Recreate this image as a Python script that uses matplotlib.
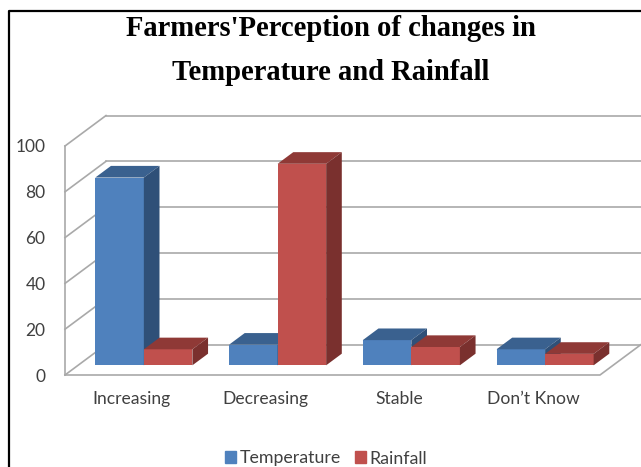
import matplotlib
matplotlib.use("Agg")
import matplotlib.pyplot as plt
from matplotlib.lines import Line2D
from matplotlib.patches import Patch

categories = ["Increasing", "Decreasing", "Stable", "Don\u2019t Know"]
temperature = [82, 9, 11, 7]
rainfall = [7, 88, 8, 5]
y_ticks = [0, 20, 40, 60, 80, 100]

title_lines = ["Farmers'Perception of changes in", "Temperature and Rainfall"]

W, H = 641, 467

# oblique depth of the box, in axis units
DEPTH_X = 0.3065
DEPTH_Y = 13.3
# the bars sit between these two fractions of the depth
BAR_D0 = 0.318
BAR_D1 = 0.70
BAR_W = 0.363

WALL = "#a9a9a9"
BLUE = ("#4f81bd", "#3a618f", "#2f5078")
RED = ("#c0504d", "#8f3936", "#7a302e")


def proj(x, y, d):
    return x + d * DEPTH_X, y + d * DEPTH_Y


def box(ax, x, value, colors):
    front, top, side = colors
    x0, base = proj(x, 0, BAR_D0)
    ax.bar(x0, value, BAR_W, bottom=base, align="edge", color=front, linewidth=0,
           clip_on=False, zorder=3)
    x1 = x0 + BAR_W
    # top face
    corners = [proj(x, value, BAR_D0), proj(x + BAR_W, value, BAR_D0),
               proj(x + BAR_W, value, BAR_D1), proj(x, value, BAR_D1)]
    ax.fill(*zip(*corners), color=top, lw=0, clip_on=False, zorder=3)
    # right face
    corners = [(x1, base), proj(x + BAR_W, 0, BAR_D1),
               proj(x + BAR_W, value, BAR_D1), proj(x + BAR_W, value, BAR_D0)]
    ax.fill(*zip(*corners), color=side, lw=0, clip_on=False, zorder=3)


fig = plt.figure(figsize=(W / 100, H / 100), dpi=100)
ax = fig.add_axes([65 / W, (H - 375) / H, 535 / W, 229 / H])
ax.set_xlim(0, len(categories))
ax.set_ylim(0, 100)
for s in ax.spines.values():
    s.set_visible(False)

# walls and floor
for t in y_ticks:
    x_b, y_b = proj(0, t, 1)
    ax.plot([0, x_b], [t, y_b], color=WALL, lw=1.2, clip_on=False, zorder=1)
    ax.plot([x_b, len(categories) + DEPTH_X], [y_b, y_b], color=WALL, lw=1.2,
            clip_on=False, zorder=1)
ax.plot([0, 0], [0, 100], color=WALL, lw=1.2, clip_on=False, zorder=2)
x_r, y_r = proj(len(categories), 0, 1)
ax.plot([0, len(categories), x_r], [0, 0, y_r], color=WALL, lw=1.2,
        clip_on=False, zorder=2)

# bars, left to right so the nearer faces overlap correctly
for i in range(len(categories)):
    left = i + 0.492 - BAR_W
    box(ax, left, temperature[i], BLUE)
    box(ax, left + BAR_W, rainfall[i], RED)

ax.set_xticks([i + 0.5 for i in range(len(categories))])
ax.set_xticklabels(categories, fontfamily="Lato", fontsize=12.6, color="#404040")
ax.set_yticks(y_ticks)
ax.set_yticklabels([str(t) for t in y_ticks], fontfamily="Lato", fontsize=12.5, color="#404040")
ax.tick_params(length=0)
ax.tick_params(axis="x", pad=11.5)
ax.tick_params(axis="y", pad=14)

handles = [Patch(color=BLUE[0], label="Temperature"), Patch(color=RED[0], label="Rainfall")]
fig.legend(handles=handles, loc="center", bbox_to_anchor=(326 / W, (H - 458.5) / H),
           ncol=2, frameon=False, handlelength=0.62, handleheight=0.62, handletextpad=0.2,
           columnspacing=0.8, borderpad=0, labelcolor="#404040",
           prop={"family": "Lato", "size": 12.8})

fig.text(330.5 / W, (H - 28.5) / H, title_lines[0], ha="center", va="center",
         family="Liberation Serif", weight="bold", fontsize=20.6, color="black")
fig.text(330.5 / W, (H - 72.5) / H, title_lines[1], ha="center", va="center",
         family="Liberation Serif", weight="bold", fontsize=20.6, color="black")

# outer frame, open to the right and below
fig.add_artist(Line2D([9 / W, 9 / W, 1], [0, (H - 11) / H, (H - 11) / H],
                      color="black", lw=1.6, transform=fig.transFigure))

fig.savefig("out.png", dpi=100)
